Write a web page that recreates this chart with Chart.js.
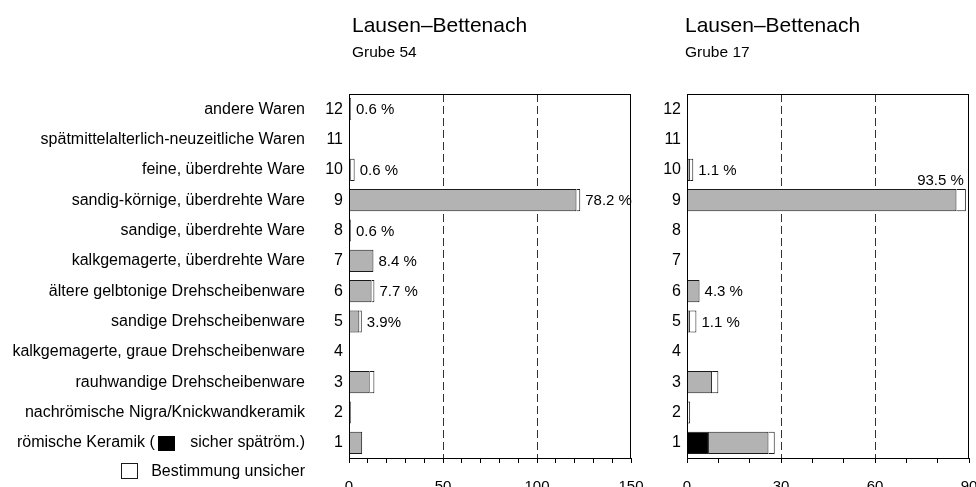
<!DOCTYPE html>
<html>
<head>
<meta charset="utf-8">
<script src="https://cdn.jsdelivr.net/npm/chart.js@4"></script>
<style>
  html, body { margin: 0; padding: 0; background: #fff; overflow: hidden; }
  #wrap { position: relative; width: 976px; height: 487px; overflow: hidden; }
  canvas { position: absolute; top: 0; }
  #g54 { left: 0; }
  #g17 { left: 650px; }
</style>
</head>
<body>
<div id="wrap">
  <canvas id="g54" width="660" height="487"></canvas>
  <canvas id="g17" width="350" height="487"></canvas>
</div>
<script>
// Warenarten je Grube, Lausen–Bettenach (Anzahl, gestapelt)
const categories = ['1', '2', '3', '4', '5', '6', '7', '8', '9', '10', '11', '12'];
const wareNames = [
  'römische Keramik (        sicher spätröm.)',
  'nachrömische Nigra/Knickwandkeramik',
  'rauhwandige Drehscheibenware',
  'kalkgemagerte, graue Drehscheibenware',
  'sandige Drehscheibenware',
  'ältere gelbtonige Drehscheibenware',
  'kalkgemagerte, überdrehte Ware',
  'sandige, überdrehte Ware',
  'sandig-körnige, überdrehte Ware',
  'feine, überdrehte Ware',
  'spätmittelalterlich-neuzeitliche Waren',
  'andere Waren'
];
const siteName = 'Lausen–Bettenach';
const unsureKey = 'Bestimmung unsicher';

// Grube 54
const g54Black  = [0, 0, 0,   0, 0,   0,   0,  0, 0,   0, 0, 0];
const g54Gray   = [7, 1, 11,  0, 5.5, 12,  13, 1, 121, 1, 0, 1];
const g54Unsure = [0, 0, 2.5, 0, 1.3, 1.5, 0,  0, 2,   2, 0, 0];
const g54Pct    = ['', '', '', '', '3.9%', '7.7 %', '8.4 %', '0.6 %', '78.2 %', '0.6 %', '', '0.6 %'];

// Grube 17
const g17Black  = [7,  0, 0, 0, 0, 0, 0, 0, 0,  0, 0, 0];
const g17Gray   = [19, 0, 8, 0, 1, 4, 0, 0, 86, 1, 0, 0];
const g17Unsure = [2,  1, 2, 0, 2, 0, 0, 0, 3,  1, 0, 0];
const g17Pct    = ['', '', '', '', '1.1 %', '4.3 %', '', '', '93.5 %', '1.1 %', '', ''];

const FONT = '"Liberation Sans", Arial, Helvetica, sans-serif';
const GRAY = '#b3b3b3';
const EDGE = '#1a1a1a';

Chart.defaults.font.family = FONT;
Chart.defaults.font.size = 15;
Chart.defaults.color = '#000';

const nz = arr => arr.map(v => (v === 0 ? null : v));

function makeDatasets(black, gray, unsure) {
  return [
    { label: 'sicher spätröm.', data: nz(black), backgroundColor: '#000' },
    { label: 'Anzahl', data: nz(gray), backgroundColor: GRAY },
    { label: unsureKey, data: nz(unsure), backgroundColor: '#fff' }
  ].map(d => Object.assign(d, {
    borderColor: EDGE, borderWidth: 1,
    barPercentage: 0.73, categoryPercentage: 1,
    xAxisID: 'x', yAxisID: 'y'
  }));
}

function xScale(max, major) {
  return {
    type: 'linear', min: 0, max: max, stacked: true,
    afterFit: s => { s.height = 29; },
    border: { display: false, dash: [8, 4] },
    grid: {
      color: c => (c.tick && c.tick.value > 0 && c.tick.value < max && c.tick.value % major === 0) ? '#333' : 'transparent',
      lineWidth: 1, tickColor: '#000', tickWidth: 1, tickLength: 5
    },
    ticks: {
      stepSize: 10, autoSkip: false, maxRotation: 0, padding: 15,
      callback: v => (v % major === 0 ? v : '')
    }
  };
}

function numberScale(width) {
  return {
    type: 'category', labels: categories, reverse: true, stacked: true, offset: true,
    position: 'left', weight: 0,
    afterFit: s => { s.width = width; },
    grid: { display: false, drawTicks: false }, border: { display: false },
    ticks: { padding: 6, autoSkip: false, font: { size: 16 } }
  };
}

// frame round the plot area
const frame = {
  id: 'frame',
  afterDraw(chart) {
    const { ctx, chartArea: a } = chart;
    ctx.save();
    ctx.strokeStyle = '#000';
    ctx.lineWidth = 1;
    const l = Math.round(a.left) + 0.5, t = Math.round(a.top) + 0.5;
    const r = Math.round(a.right) - 0.5, b = Math.round(a.bottom) + 0.5;
    ctx.strokeRect(l, t, r - l, b - t);
    ctx.restore();
  }
};

// site name and pit number above the plot
const heading = {
  id: 'heading',
  afterDraw(chart, args, opts) {
    const { ctx, chartArea } = chart;
    ctx.save();
    ctx.fillStyle = '#000';
    ctx.textAlign = 'left';
    ctx.textBaseline = 'alphabetic';
    ctx.font = '21px ' + FONT;
    ctx.fillText(opts.title, chartArea.left + opts.dx, 32);
    ctx.font = '15.5px ' + FONT;
    ctx.fillText(opts.sub, chartArea.left + opts.dx, 57);
    ctx.restore();
  }
};

// percentage next to the end of each bar (above it when there is no room)
const pctLabels = {
  id: 'pctLabels',
  afterDatasetsDraw(chart, args, opts) {
    const { ctx } = chart;
    const xs = chart.scales.x, ys = chart.scales.y;
    const sets = chart.data.datasets;
    ctx.save();
    ctx.font = '15px ' + FONT;
    ctx.fillStyle = '#000';
    opts.labels.forEach((txt, i) => {
      if (!txt) return;
      const total = sets.reduce((s, d) => s + (d.data[i] || 0), 0);
      const end = xs.getPixelForValue(total);
      const y = ys.getPixelForValue(i);
      const w = ctx.measureText(txt).width;
      if (end + 5 + w > opts.room) {
        const bar = chart.getDatasetMeta(1).data[i];
        ctx.textAlign = 'right';
        ctx.textBaseline = 'alphabetic';
        ctx.fillText(txt, end - 2, y - bar.height / 2 - 4);
      } else {
        ctx.textAlign = 'left';
        ctx.textBaseline = 'middle';
        ctx.fillText(txt, end + 5, y + 1);
      }
    });
    ctx.restore();
  }
};

// black square inside the first ware name, and the white "unsicher" key
const keyMarks = {
  id: 'keyMarks',
  afterDraw(chart) {
    const s = chart.scales.yName;
    const ctx = chart.ctx;
    const right = s.right - s.options.ticks.padding;
    ctx.save();
    ctx.font = '16px ' + FONT;
    const start = right - ctx.measureText(wareNames[0]).width;
    const sx = start + ctx.measureText('römische Keramik (').width + 3;
    const y1 = s.getPixelForValue(0);
    ctx.fillStyle = '#000';
    ctx.fillRect(Math.round(sx), Math.round(y1 - 7), 17, 15);

    ctx.textAlign = 'right';
    ctx.textBaseline = 'middle';
    ctx.fillText(unsureKey, right, 472);
    const kx = Math.round(right - ctx.measureText(unsureKey).width - 13 - 17);
    ctx.strokeStyle = EDGE;
    ctx.lineWidth = 1;
    ctx.strokeRect(kx + 0.5, 463.5, 16, 15);
    ctx.restore();
  }
};

new Chart(document.getElementById('g54'), {
  type: 'bar',
  data: { labels: categories, datasets: makeDatasets(g54Black, g54Gray, g54Unsure) },
  options: {
    indexAxis: 'y', responsive: false, animation: false,
    layout: { padding: { top: 94, right: 29, bottom: 0, left: 0 } },
    scales: {
      x: xScale(150, 50),
      y: numberScale(36),
      yName: {
        type: 'category', labels: wareNames, reverse: true, offset: true,
        position: 'left', weight: 1,
        afterFit: s => { s.width = 313; },
        grid: { display: false, drawTicks: false }, border: { display: false },
        ticks: { padding: 8, autoSkip: false, font: { size: 16 } }
      }
    },
    plugins: {
      legend: { display: false }, tooltip: { enabled: false },
      heading: { title: siteName, sub: 'Grube 54', dx: 3 },
      pctLabels: { labels: g54Pct, room: 660 }
    }
  },
  plugins: [frame, heading, pctLabels, keyMarks]
});

new Chart(document.getElementById('g17'), {
  type: 'bar',
  data: { labels: categories, datasets: makeDatasets(g17Black, g17Gray, g17Unsure) },
  options: {
    indexAxis: 'y', responsive: false, animation: false,
    layout: { padding: { top: 94, right: 31, bottom: 0, left: 0 } },
    scales: {
      x: xScale(90, 30),
      y: numberScale(37)
    },
    plugins: {
      legend: { display: false }, tooltip: { enabled: false },
      heading: { title: siteName, sub: 'Grube 17', dx: -2 },
      pctLabels: { labels: g17Pct, room: 326 }
    }
  },
  plugins: [frame, heading, pctLabels]
});
</script>
</body>
</html>
